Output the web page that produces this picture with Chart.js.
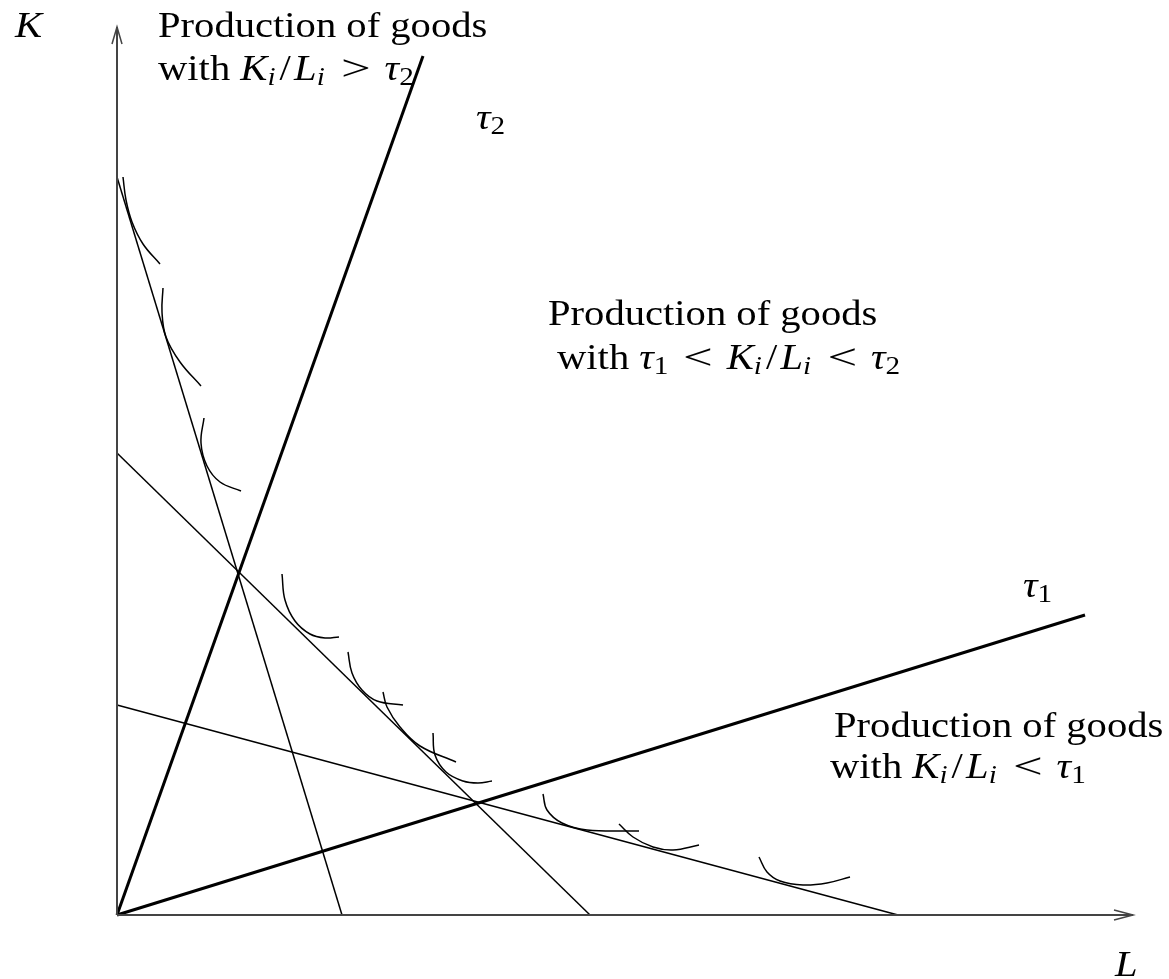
<!DOCTYPE html>
<html>
<head>
<meta charset="utf-8">
<script src="https://cdn.jsdelivr.net/npm/chart.js@4.4.0/dist/chart.umd.min.js"></script>
<style>
  html, body { margin: 0; padding: 0; background: #fff; }
  canvas { display: block; }
</style>
</head>
<body>
<canvas id="chart" width="1169" height="979"></canvas>
<script>
// axes (L horizontal, K vertical)
var xAxisLine = [{x:0,y:0},{x:10.16,y:0}];
var yAxisLine = [{x:0,y:0},{x:0,y:8.88}];

// capital/labour ratio rays
var tau2Ray = [{x:0,y:0},{x:3.06,y:8.59}];
var tau1Ray = [{x:0,y:0},{x:9.68,y:3.00}];

// isocost lines
var budgetSteep = [{x:0,y:7.38},{x:2.25,y:0}];
var budgetMid   = [{x:0,y:4.62},{x:4.73,y:0}];
var budgetFlat  = [{x:0,y:2.10},{x:7.81,y:0}];

// pieces of isoquants
var arc1  = [{x:0.06,y:7.38},{x:0.09,y:7.15},{x:0.15,y:6.93},{x:0.26,y:6.71},{x:0.43,y:6.51}];
var arc2  = [{x:0.46,y:6.27},{x:0.45,y:6.03},{x:0.49,y:5.78},{x:0.63,y:5.53},{x:0.84,y:5.29}];
var arc3  = [{x:0.87,y:4.97},{x:0.84,y:4.72},{x:0.90,y:4.49},{x:1.03,y:4.33},{x:1.24,y:4.24}];
var arc4  = [{x:1.65,y:3.41},{x:1.68,y:3.15},{x:1.78,y:2.94},{x:1.93,y:2.81},{x:2.08,y:2.77},{x:2.22,y:2.78}];
var arc5  = [{x:2.31,y:2.63},{x:2.35,y:2.42},{x:2.45,y:2.25},{x:2.60,y:2.14},{x:2.86,y:2.10}];
var arc6  = [{x:2.66,y:2.23},{x:2.70,y:2.08},{x:2.83,y:1.88},{x:3.03,y:1.69},{x:3.39,y:1.53}];
var arc7  = [{x:3.16,y:1.82},{x:3.18,y:1.60},{x:3.29,y:1.43},{x:3.46,y:1.34},{x:3.61,y:1.32},{x:3.75,y:1.34}];
var arc8  = [{x:4.26,y:1.21},{x:4.30,y:1.05},{x:4.45,y:0.92},{x:4.70,y:0.85},{x:5.22,y:0.84}];
var arc9  = [{x:5.02,y:0.91},{x:5.16,y:0.78},{x:5.36,y:0.68},{x:5.56,y:0.65},{x:5.82,y:0.70}];
var arc10 = [{x:6.42,y:0.58},{x:6.50,y:0.43},{x:6.63,y:0.34},{x:6.86,y:0.30},{x:7.10,y:0.32},{x:7.33,y:0.38}];

var arcs = [arc1, arc2, arc3, arc4, arc5, arc6, arc7, arc8, arc9, arc10];

// text on the diagram
var labelK = [['it','K']];
var labelL = [['it','L']];
var labelTau2 = [['it','τ'],['sub','2']];
var labelTau1 = [['it','τ'],['sub','1']];
var topText = [
  [['rm','Production of goods']],
  [['rm','with '],['it','K'],['subit','i'],['rm','/'],['it','L'],['subit','i'],['rel','>'],['it','τ'],['sub','2']]
];
var midText = [
  [['rm','Production of goods']],
  [['rm','with '],['it','τ'],['sub','1'],['rel','<'],['it','K'],['subit','i'],['rm','/'],['it','L'],['subit','i'],['rel','<'],['it','τ'],['sub','2']]
];
var lowText = [
  [['rm','Production of goods']],
  [['rm','with '],['it','K'],['subit','i'],['rm','/'],['it','L'],['subit','i'],['rel','<'],['it','τ'],['sub','1']]
];

var FS = 35;
var SX = 1.16;
// extra advance (in em) after some math glyphs, to get closer to Computer Modern widths
var extra = { 'K': 0.10, 'L': 0.06, '/': 0.08, 'τ': 0.02 };

function drawRich(ctx, segs, x, y) {
  ctx.save();
  ctx.translate(x, y);
  ctx.scale(SX, 1);
  var cx = 0, pending = 0;
  segs.forEach(function(s, k) {
    var style = s[0], txt = s[1];
    var isSub = (style === 'sub' || style === 'subit');
    var size = isSub ? FS * 0.72 : FS;
    var italic = (style === 'it' || style === 'subit');
    ctx.font = (italic ? 'italic ' : '') + size + 'px "Liberation Serif"';
    if (!isSub) { cx += pending; pending = 0; }
    if (style === 'rel') {
      cx += 0.34 * FS;
      ctx.save();
      ctx.translate(cx, 0);
      ctx.scale(1.3, 1);
      ctx.fillText(txt, 0, 0);
      ctx.restore();
      cx += ctx.measureText(txt).width * 1.3 + 0.34 * FS;
      return;
    }
    ctx.fillText(txt, cx, isSub ? FS * 0.15 : 0);
    cx += ctx.measureText(txt).width;
    if (!isSub && extra[txt]) pending = extra[txt] * FS;
    if (isSub) { cx += pending; pending = 0; }
  });
  ctx.restore();
}

var textPlugin = {
  id: 'textPlugin',
  afterDraw: function(chart) {
    var ctx = chart.ctx, xs = chart.scales.x, ys = chart.scales.y;
    ctx.save();
    ctx.fillStyle = '#000';
    ctx.textBaseline = 'alphabetic';
    ctx.textAlign = 'left';
    function put(segs, x, y) { drawRich(ctx, segs, xs.getPixelForValue(x), ys.getPixelForValue(y)); }
    put(labelK, -1.02, 8.78);
    put(labelL, 9.98, -0.61);
    put(labelTau2, 3.59, 7.86);
    put(labelTau1, 9.06, 3.18);
    put(topText[0], 0.41, 8.78);
    put(topText[1], 0.41, 8.35);
    put(midText[0], 4.31, 5.90);
    put(midText[1], 4.40, 5.46);
    put(lowText[0], 7.17, 1.78);
    put(lowText[1], 7.13, 1.37);
    ctx.restore();
  }
};

var arrowPlugin = {
  id: 'arrowPlugin',
  afterDatasetsDraw: function(chart) {
    var ctx = chart.ctx, xs = chart.scales.x, ys = chart.scales.y;
    ctx.save();
    ctx.strokeStyle = '#444';
    ctx.lineWidth = 1.5;
    var tx = xs.getPixelForValue(xAxisLine[1].x), ty = ys.getPixelForValue(xAxisLine[1].y);
    ctx.beginPath();
    ctx.moveTo(tx - 19, ty - 5); ctx.lineTo(tx, ty); ctx.lineTo(tx - 19, ty + 5);
    ctx.stroke();
    var ux = xs.getPixelForValue(yAxisLine[1].x), uy = ys.getPixelForValue(yAxisLine[1].y);
    ctx.beginPath();
    ctx.moveTo(ux - 5, uy + 17); ctx.lineTo(ux, uy); ctx.lineTo(ux + 5, uy + 17);
    ctx.stroke();
    ctx.restore();
  }
};

function lineSet(data, width, color) {
  return { data: data, showLine: true, borderColor: color, borderWidth: width,
           pointRadius: 0, fill: false, tension: 0, clip: false };
}

var datasets = [
  lineSet(xAxisLine, 2, '#444'),
  lineSet(yAxisLine, 2, '#444'),
  lineSet(budgetSteep, 1.5, '#000'),
  lineSet(budgetMid, 1.5, '#000'),
  lineSet(budgetFlat, 1.5, '#000'),
  lineSet(tau2Ray, 3, '#000'),
  lineSet(tau1Ray, 3, '#000')
];
arcs.forEach(function(a) {
  var d = lineSet(a, 1.5, '#000');
  d.tension = 0.4;
  datasets.push(d);
});

new Chart(document.getElementById('chart'), {
  type: 'scatter',
  data: { datasets: datasets },
  options: {
    responsive: false,
    animation: false,
    layout: { padding: { left: 117, right: 2, top: 15, bottom: 64 } },
    scales: {
      x: { type: 'linear', min: 0, max: 10.5, display: false },
      y: { type: 'linear', min: 0, max: 9, display: false }
    },
    plugins: { legend: { display: false }, tooltip: { enabled: false } }
  },
  plugins: [arrowPlugin, textPlugin]
});
</script>
</body>
</html>
